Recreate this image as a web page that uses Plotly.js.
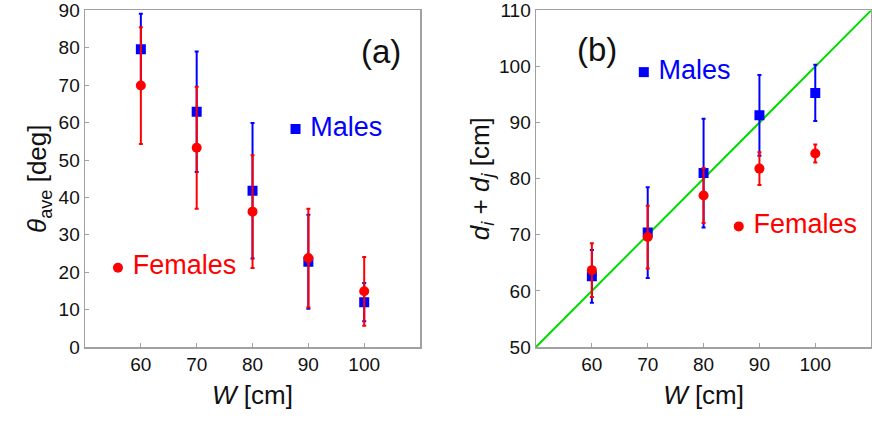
<!DOCTYPE html>
<html>
<head>
<meta charset="utf-8">
<script src="https://cdn.plot.ly/plotly-3.0.1.min.js"></script>
<style>
  html, body { margin: 0; padding: 0; background: #fff; }
  #chart { width: 872px; height: 427px; }
</style>
</head>
<body>
<div id="chart"></div>
<script>
// widths W [cm]
var W = [60, 70, 80, 90, 100];

// (a) average angle [deg]
var thetaMales = [79.6, 62.9, 41.8, 22.8, 12.0];
var thetaMalesErr = [9.5, 16.1, 18.1, 12.6, 5.1];
var thetaFemales = [69.9, 53.3, 36.2, 23.8, 14.9];
var thetaFemalesErr = [15.6, 16.3, 15.1, 13.2, 9.2];

// (b) d_i + d_j [cm]
var dMales = [62.6, 70.4, 81.0, 91.3, 95.3];
var dMalesErr = [4.7, 8.1, 9.7, 7.2, 5.0];
var dFemales = [63.7, 69.6, 77.0, 81.8, 84.5];
var dFemalesErr = [4.8, 5.6, 4.9, 2.9, 1.6];

// identity line for (b)
var diagX = [50, 110];
var diagY = [50, 110];

// in-plot labels
var labelA = {males: [87.7, 58.3], females: [55.9, 21.2], tag: [103, 79]};
var labelB = {males: [69.3, 99.0], females: [86.3, 71.5], tag: [61, 103]};

var blue = 'rgb(0,0,255)';
var red = 'rgb(255,0,0)';
var FONT = 'Liberation Sans, Arial, sans-serif';

function errTrace(x, y, err, color, symbol, xa, ya) {
    return {
        x: x, y: y,
        type: 'scatter', mode: 'markers',
        marker: {color: color, symbol: symbol, size: 10},
        error_y: {type: 'data', array: err, visible: true, color: color, thickness: 2, width: 2},
        xaxis: xa, yaxis: ya,
        showlegend: false, hoverinfo: 'none'
    };
}

function labelTrace(pos, text, color, symbol, xa, ya) {
    return {
        x: [pos[0]], y: [pos[1]],
        type: 'scatter', mode: 'markers+text',
        marker: {color: color, symbol: symbol, size: 10},
        text: [' ' + text], textposition: 'middle right',
        textfont: {family: FONT, size: 27, color: color},
        xaxis: xa, yaxis: ya,
        showlegend: false, hoverinfo: 'none', cliponaxis: false
    };
}

var data = [
    // panel (a)
    errTrace(W, thetaMales, thetaMalesErr, blue, 'square', 'x', 'y'),
    errTrace(W, thetaFemales, thetaFemalesErr, red, 'circle', 'x', 'y'),
    labelTrace(labelA.males, 'Males', blue, 'square', 'x', 'y'),
    labelTrace(labelA.females, 'Females', red, 'circle', 'x', 'y'),
    // panel (b)
    {
        x: diagX, y: diagY, type: 'scatter', mode: 'lines',
        line: {color: 'rgb(0,220,0)', width: 2},
        xaxis: 'x2', yaxis: 'y2', showlegend: false, hoverinfo: 'none'
    },
    errTrace(W, dMales, dMalesErr, blue, 'square', 'x2', 'y2'),
    errTrace(W, dFemales, dFemalesErr, red, 'circle', 'x2', 'y2'),
    labelTrace(labelB.males, 'Males', blue, 'square', 'x2', 'y2'),
    labelTrace(labelB.females, 'Females', red, 'circle', 'x2', 'y2')
];

var tickFont = {family: FONT, size: 19, color: '#111'};
var titleFont = {family: FONT, size: 26, color: '#111'};

function axis(extra) {
    var a = {
        showline: true, mirror: true, linecolor: '#a0a0a0', linewidth: 1.5,
        ticks: 'inside', ticklen: 4, tickcolor: '#a0a0a0', tickwidth: 1,
        showgrid: false, zeroline: false,
        tickfont: tickFont, fixedrange: true
    };
    for (var k in extra) a[k] = extra[k];
    return a;
}

// plot area: top at 10.5px, bottom at 347px of the 427px picture
var layout = {
    width: 872, height: 427,
    margin: {l: 0, r: 0, t: 10, b: 0},
    paper_bgcolor: '#fff', plot_bgcolor: '#fff',
    showlegend: false,
    xaxis: axis({domain: [0.0975, 0.4817], range: [50, 110], tickvals: [60, 70, 80, 90, 100],
        title: {text: '<i>W</i> [cm]', font: titleFont, standoff: 11}, anchor: 'y'}),
    yaxis: axis({domain: [0.1918, 0.999], range: [0, 90], tickvals: [0, 10, 20, 30, 40, 50, 60, 70, 80, 90],
        title: {text: '<i>θ</i><sub>ave</sub> [deg]', font: titleFont, standoff: 4}, anchor: 'x'}),
    xaxis2: axis({domain: [0.6147, 0.999], range: [50, 110], tickvals: [60, 70, 80, 90, 100],
        title: {text: '<i>W</i> [cm]', font: titleFont, standoff: 11}, anchor: 'y2'}),
    yaxis2: axis({domain: [0.1918, 0.999], range: [50, 110], tickvals: [50, 60, 70, 80, 90, 100, 110],
        title: {text: '<i>d<sub>i</sub></i> + <i>d<sub>j</sub></i> [cm]', font: titleFont, standoff: 2}, anchor: 'x2'}),
    annotations: [
        {x: labelA.tag[0], y: labelA.tag[1], xref: 'x', yref: 'y', text: '(a)', showarrow: false,
         font: {family: FONT, size: 33, color: '#111'}},
        {x: labelB.tag[0], y: labelB.tag[1], xref: 'x2', yref: 'y2', text: '(b)', showarrow: false,
         font: {family: FONT, size: 33, color: '#111'}}
    ]
};

Plotly.newPlot('chart', data, layout, {displayModeBar: false, staticPlot: true});
</script>
</body>
</html>
